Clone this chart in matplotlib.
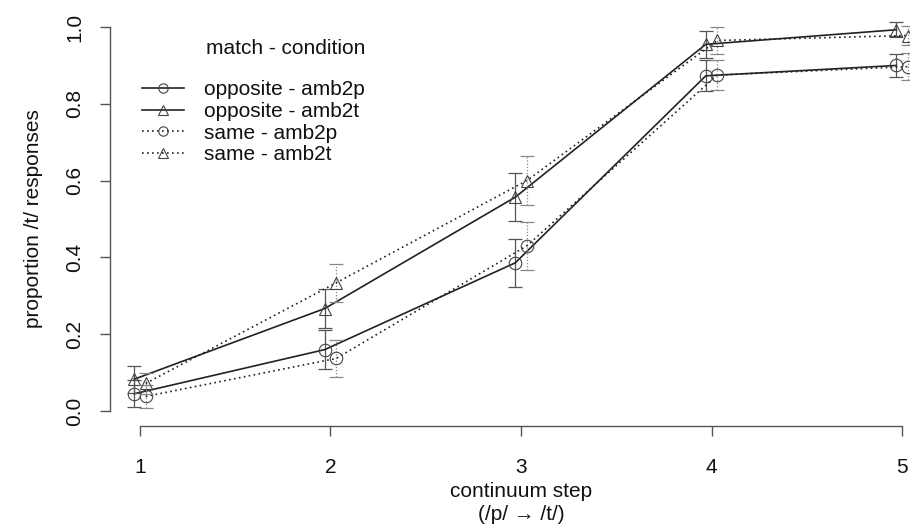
import matplotlib
matplotlib.use("Agg")
import matplotlib.pyplot as plt
import numpy as np

plt.rcParams['font.family'] = ['Liberation Sans', 'DejaVu Sans']

steps = np.array([1, 2, 3, 4, 5])

# mean proportion /t/ responses and error bar half-widths
opp_amb2p = [0.045, 0.160, 0.386, 0.873, 0.900]
opp_amb2p_err = [0.035, 0.050, 0.063, 0.040, 0.030]
opp_amb2t = [0.083, 0.267, 0.557, 0.955, 0.993]
opp_amb2t_err = [0.035, 0.050, 0.062, 0.036, 0.020]
same_amb2p = [0.038, 0.137, 0.430, 0.875, 0.897]
same_amb2p_err = [0.030, 0.048, 0.062, 0.040, 0.035]
same_amb2t = [0.072, 0.334, 0.600, 0.965, 0.978]
same_amb2t_err = [0.028, 0.049, 0.064, 0.035, 0.025]

series = [
    ("opposite - amb2p", opp_amb2p, opp_amb2p_err, "o", "-", -0.03),
    ("opposite - amb2t", opp_amb2t, opp_amb2t_err, "^", "-", -0.03),
    ("same - amb2p", same_amb2p, same_amb2p_err, "o", (0, (1, 2)), 0.03),
    ("same - amb2t", same_amb2t, same_amb2t_err, "^", (0, (1, 2)), 0.03),
]

fig = plt.figure(figsize=(9.1, 5.32), dpi=100)
ax = fig.add_axes([109.5 / 910, 105.6 / 532, 823 / 910, 414.7 / 532])

for label, vals, err, mk, ls, dx in series:
    x = steps + dx
    ebar_c = "#555555" if ls == "-" else "#888888"
    eb = ax.errorbar(x, vals, yerr=err, fmt="none", ecolor=ebar_c,
                     elinewidth=0.9, capsize=5, capthick=0.9)
    if ls != "-":
        for c in eb[2]:
            c.set_linestyle((0, (1, 1.5)))
    ax.plot(x, vals, color="#222222", linestyle=ls, linewidth=1.2,
            marker=mk, markersize=9, markerfacecolor="none",
            markeredgecolor="#444444", markeredgewidth=0.8, label=label)

ax.set_xlim(0.84, 5.16)
ax.set_ylim(-0.04, 1.04)
ax.spines['top'].set_visible(False)
ax.spines['right'].set_visible(False)
ax.spines['left'].set_bounds(0, 1)
ax.spines['bottom'].set_bounds(1, 5)
for s in ['left', 'bottom']:
    ax.spines[s].set_color("#555555")
    ax.spines[s].set_linewidth(1.0)

ax.set_xticks(steps)
ax.set_yticks([0, 0.2, 0.4, 0.6, 0.8, 1.0])
ax.set_yticklabels(["0.0", "0.2", "0.4", "0.6", "0.8", "1.0"], rotation=90, va="center")
ax.tick_params(axis='x', direction='out', length=7, width=1.0, color="#555555",
               labelsize=15, labelcolor="#111111", pad=16)
ax.tick_params(axis='y', direction='out', length=7, width=1.0, color="#555555",
               labelsize=15, labelcolor="#111111", pad=11)

ax.set_xlabel("continuum step\n(/p/ \u2192 /t/)", fontsize=15, color="#111111",
              labelpad=3, linespacing=1.3)
ax.set_ylabel("proportion /t/ responses", fontsize=15, color="#111111", labelpad=16)

leg = ax.legend(title="match - condition", loc="upper left",
                bbox_to_anchor=(142 / 910, 1 - 39 / 532), bbox_transform=fig.transFigure,
                frameon=False, fontsize=15, title_fontsize=15, handlelength=2.0,
                handletextpad=1.0, labelspacing=0.13, borderpad=0, borderaxespad=0,
                alignment="right", markerscale=0.75)
leg._legend_box.sep = 16
for t in leg.get_texts():
    t.set_color("#111111")
leg.get_title().set_color("#111111")

fig.savefig("out.png", dpi=100)
